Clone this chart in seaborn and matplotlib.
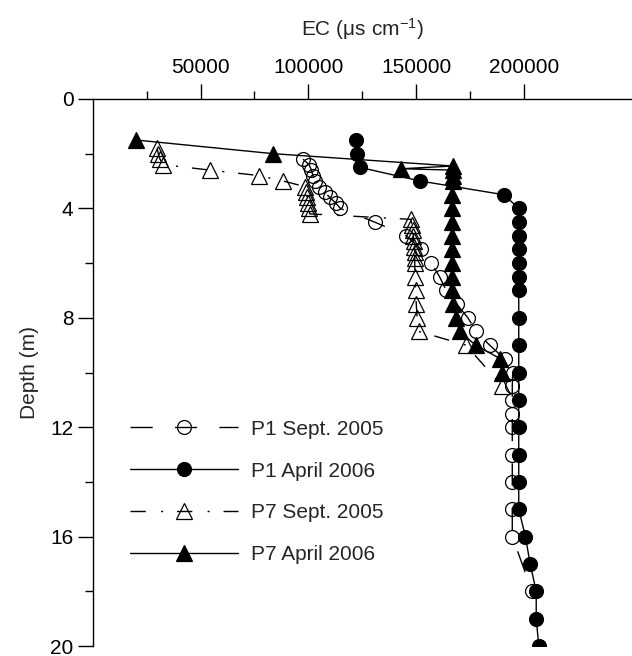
"""EC depth profiles for P1 and P7, Sept. 2005 vs April 2006."""

import matplotlib

matplotlib.use("Agg")
import matplotlib.pyplot as plt
import pandas as pd
import seaborn as sns

# depth (m) and EC (us/cm)
p1_sep_depth = [2.2, 2.4, 2.6, 2.8, 3.0, 3.2, 3.4, 3.6, 3.8, 4.0, 4.5, 5.0, 5.5, 6.0,
                6.5, 7.0, 7.5, 8.0, 8.5, 9.0, 9.5, 10.0, 10.5, 11.0, 11.5, 12, 13,
                14, 15, 16, 18]
p1_sep_ec = [97500, 100300, 101400, 102100, 102900, 104900, 107500, 109900, 112600,
             114800, 130700, 145400, 152300, 157000, 160800, 163900, 168800, 173900,
             177800, 184000, 190900, 194700, 194500, 194500, 194500, 194500, 194500,
             194500, 194500, 194500, 203700]

p1_apr_depth = [1.5, 2.0, 2.5, 3.0, 3.5, 4.0, 4.5, 5.0, 5.5, 6.0, 6.5, 7.0, 8, 9, 10,
                11, 12, 13, 14, 15, 16, 17, 18, 19, 20]
p1_apr_ec = [121900, 122700, 123800, 151900, 190600, 197500, 197500, 197500, 197500,
             197500, 197500, 197500, 197500, 197500, 197500, 197500, 197500, 197500,
             197500, 197500, 200600, 202800, 205600, 205600, 206800]

p7_sep_depth = [1.8, 2.0, 2.2, 2.4, 2.6, 2.8, 3.0, 3.2, 3.4, 3.6, 3.8, 4.0, 4.2, 4.4,
                4.6, 4.8, 5.0, 5.2, 5.4, 5.6, 5.8, 6.0, 6.5, 7.0, 7.5, 8.0, 8.5, 9.0,
                10.5]
p7_sep_ec = [29900, 30400, 31200, 32700, 54300, 77100, 88300, 98300, 99100, 99400,
             99800, 100300, 100600, 147400, 148000, 148300, 148600, 148900, 149100,
             149200, 149300, 149300, 149400, 149700, 150000, 150400, 151200, 173100,
             189800]

p7_apr_depth = [1.5, 2.0, 2.45, 2.55, 2.6, 2.8, 3.0, 3.5, 4.0, 4.5, 5.0, 5.5, 6.0,
                6.5, 7.0, 7.5, 8.0, 8.5, 9.0, 9.5, 10.0]
p7_apr_ec = [20100, 83800, 167000, 143100, 167000, 167000, 167000, 166700, 166700,
             166700, 166700, 166700, 166700, 166700, 166700, 167000, 168500, 170100,
             177500, 189000, 189600]

labels = ["P1 Sept. 2005", "P1 April 2006", "P7 Sept. 2005", "P7 April 2006"]
x_ticks = [50000, 100000, 150000, 200000]
y_ticks = [0, 4, 8, 12, 16, 20]

sns.set_style("ticks")
plt.rcParams["font.family"] = ["Liberation Sans", "DejaVu Sans"]
plt.rcParams["mathtext.fontset"] = "custom"
plt.rcParams["mathtext.rm"] = "Liberation Sans"
plt.rcParams["mathtext.it"] = "Liberation Sans:italic"

df = pd.concat(
    [
        pd.DataFrame({"EC": ec, "Depth": d, "series": lab})
        for ec, d, lab in zip(
            [p1_sep_ec, p1_apr_ec, p7_sep_ec, p7_apr_ec],
            [p1_sep_depth, p1_apr_depth, p7_sep_depth, p7_apr_depth],
            labels,
        )
    ],
    ignore_index=True,
)

styles = {
    "P1 Sept. 2005": dict(marker="o", ms=10, mfc="none", ls=(0, (16, 16))),
    "P1 April 2006": dict(marker="o", ms=10, mfc="black", ls="-"),
    "P7 Sept. 2005": dict(marker="^", ms=11, mfc="none", ls=(0, (11, 11, 1.5, 10))),
    "P7 April 2006": dict(marker="^", ms=11, mfc="black", ls="-"),
}

fig = plt.figure(figsize=(6.32, 6.56), dpi=100)
ax = fig.add_axes([92.7 / 632, 10 / 656, (632 - 92.7) / 632, (646 - 99) / 656])

for lab in labels:
    sub = df[df["series"] == lab]
    st = styles[lab]
    sns.lineplot(
        x=sub["EC"].to_numpy(),
        y=sub["Depth"].to_numpy(),
        sort=False,
        estimator=None,
        ax=ax,
        color="black",
        marker=st["marker"],
        markersize=st["ms"],
        markerfacecolor=st["mfc"],
        markeredgecolor="black",
        markeredgewidth=0.9,
        linewidth=1.0,
        linestyle=st["ls"],
        label=lab,
    )

ax.set_xlim(0, 250000)
ax.set_ylim(20, 0)
ax.xaxis.tick_top()
ax.xaxis.set_label_position("top")
ax.set_xticks(x_ticks, labels=[str(t) for t in x_ticks])
ax.set_xticks([25000, 75000, 125000, 175000], minor=True)
ax.set_yticks(y_ticks, labels=[str(t) for t in y_ticks])
ax.set_yticks([2, 6, 10, 14, 18], minor=True)
ax.tick_params(which="major", length=10.8, width=1, labelsize=15, pad=3, colors="black")
ax.tick_params(axis="x", which="major", pad=5)
ax.tick_params(which="minor", length=5.8, width=1, colors="black")

for side in ["right", "bottom"]:
    ax.spines[side].set_visible(False)
for side in ["top", "left"]:
    ax.spines[side].set_linewidth(1.0)
    ax.spines[side].set_color("black")

ax.set_xlabel("EC (μs cm$^{-1}$)", fontsize=15, labelpad=16)
ax.set_ylabel("Depth (m)", fontsize=15, labelpad=8)

ax.legend(
    loc="center left",
    bbox_to_anchor=(130 / 632, 1 - 492 / 656),
    bbox_transform=fig.transFigure,
    frameon=False,
    fontsize=15,
    handlelength=5.2,
    handletextpad=0.6,
    labelspacing=1.1,
    borderpad=0,
    borderaxespad=0,
    numpoints=1,
)

fig.savefig("out.png", dpi=100)
